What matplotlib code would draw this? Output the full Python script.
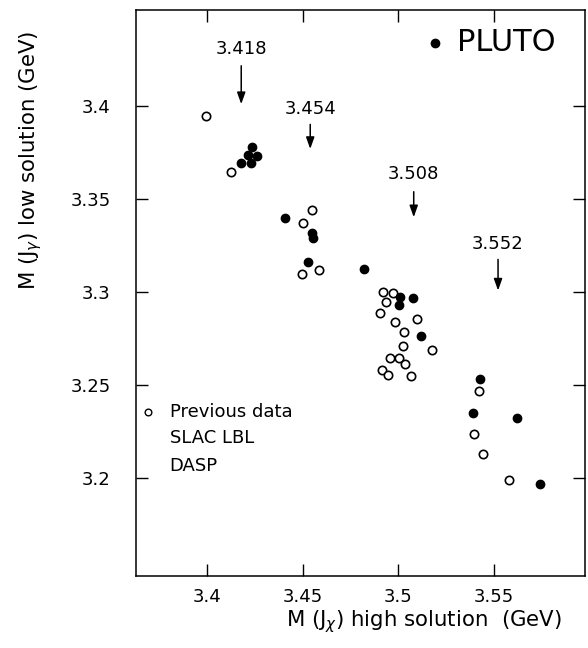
import numpy as np
import matplotlib.pyplot as plt

plt.rcParams['font.family'] = ['DejaVu Sans']
plt.rcParams['mathtext.fontset'] = 'dejavusans'

# PLUTO points (filled)
pluto_x = [3.4178, 3.4216, 3.4229, 3.4263, 3.4234,
           3.441, 3.4548, 3.4552, 3.453,
           3.482, 3.5006, 3.5074, 3.5004, 3.5119,
           3.5428, 3.5388, 3.5620, 3.5738]
pluto_y = [3.3695, 3.3737, 3.3692, 3.3731, 3.3781,
           3.340, 3.3315, 3.3290, 3.3163,
           3.3122, 3.2975, 3.2966, 3.2929, 3.2763,
           3.253, 3.2348, 3.2323, 3.1968]

# previous data SLAC LBL DASP (open)
prev_x = [3.3995, 3.4126,
          3.450, 3.455, 3.4495, 3.4587,
          3.4919, 3.4974, 3.4936, 3.4905, 3.5097, 3.498, 3.5029, 3.5022,
          3.5175, 3.4954, 3.5001, 3.5037, 3.4912, 3.4948, 3.5067,
          3.5423, 3.5397, 3.544, 3.5578]
prev_y = [3.3948, 3.3645,
          3.337, 3.344, 3.3095, 3.3117,
          3.2998, 3.2996, 3.2945, 3.2886, 3.2853, 3.2837, 3.2785, 3.271,
          3.2688, 3.2644, 3.2644, 3.2615, 3.2581, 3.2554, 3.255,
          3.247, 3.2237, 3.2129, 3.1989]

# arrows: mass value, label y, arrow start y, arrow tip y
arrow_vals = [3.418, 3.454, 3.508, 3.552]
arrow_lab_y = [3.4305, 3.3982, 3.3633, 3.3257]
arrow_top_y = [3.4231, 3.3916, 3.3554, 3.3190]
arrow_tip_y = [3.3995, 3.3754, 3.3387, 3.2993]

xticks = [3.4, 3.45, 3.5, 3.55]
xtick_labels = ['3.4', '3.45', '3.5', '3.55']
yticks = [3.2, 3.25, 3.3, 3.35, 3.4]
ytick_labels = ['3.2', '3.25', '3.3', '3.35', '3.4']

fs = 13

fig = plt.figure(figsize=(5.88, 6.48), dpi=100)
ax = fig.add_axes([0.231, 0.1116, 0.764, 0.873])

ax.plot(prev_x, prev_y, 'o', mfc='white', mec='black', mew=1.2, ms=6.0, ls='none')
ax.plot(pluto_x, pluto_y, 'o', color='black', ms=6.0, ls='none')

for v, ly, ty, tip in zip(arrow_vals, arrow_lab_y, arrow_top_y, arrow_tip_y):
    ax.text(v, ly, '%.3f' % v, ha='center', va='center', fontsize=fs)
    ax.annotate('', xy=(v, tip), xytext=(v, ty),
                arrowprops=dict(arrowstyle='-|>,head_length=0.7,head_width=0.25',
                                color='black', lw=1.1))

# PLUTO legend
ax.plot([3.5189], [3.434], 'o', color='black', ms=6.0)
ax.text(3.5306, 3.434, 'PLUTO', ha='left', va='center', fontsize=22)

# previous data legend
ax.plot([3.3691], [3.2355], 'o', mfc='white', mec='black', mew=1.0, ms=4.8)
ax.text(3.3806, 3.2355, 'Previous data', ha='left', va='center', fontsize=fs)
ax.text(3.3806, 3.2215, 'SLAC LBL', ha='left', va='center', fontsize=fs)
ax.text(3.3806, 3.2065, 'DASP', ha='left', va='center', fontsize=fs)

ax.set_xlim(3.363, 3.5974)
ax.set_ylim(3.1475, 3.4516)
ax.set_xticks(xticks)
ax.set_xticklabels(xtick_labels, fontsize=fs)
ax.set_yticks(yticks)
ax.set_yticklabels(ytick_labels, fontsize=fs)
ax.tick_params(axis='both', direction='in', length=8.5, width=1.0,
               top=True, right=True)
ax.tick_params(axis='x', pad=9)
ax.tick_params(axis='y', pad=18)
for s in ax.spines.values():
    s.set_linewidth(1.1)

fig.text(31 / 588, 1 - 160 / 648, r'M (J$_{\gamma}$) low solution (GeV)',
         rotation=90, ha='center', va='center', fontsize=15.3)
fig.text(424 / 588, 1 - 621.7 / 648, r'M (J$_{\chi}$) high solution  (GeV)',
         ha='center', va='center', fontsize=15.3)

fig.savefig('out.png', dpi=100)
